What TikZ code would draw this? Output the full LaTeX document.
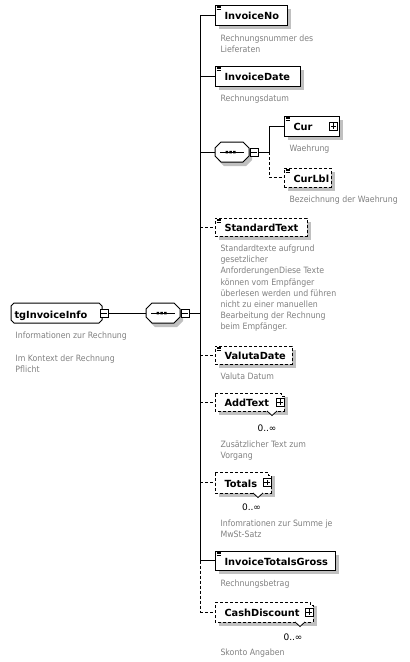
\documentclass[tikz,border=0pt]{standalone}
\usepackage{fontspec}
\setmainfont{DejaVu Sans}
\newfontfamily\descfont[FakeStretch=0.9]{DejaVu Sans}
\definecolor{shadowgray}{RGB}{192,192,192}
\definecolor{descgray}{RGB}{128,128,128}
\tikzset{
  opt/.style={dash pattern=on 3pt off 2pt},
  ebox/.style={draw, fill=white, line width=1pt, inner sep=0pt, outer sep=0pt},
  title/.style={font=\bfseries\fontsize{9.8}{12}\selectfont, anchor=base west, inner sep=0pt},
  desc/.style={font=\descfont\fontsize{8.7}{11}\selectfont, text=descgray, anchor=base west, inner sep=0pt},
  mult/.style={font=\fontsize{9}{11}\selectfont, anchor=base, inner sep=0pt},
  pmbox/.style={draw, fill=white, line width=0.8pt, minimum width=8pt, minimum height=8pt, inner sep=0pt, outer sep=0pt},
  plusbox/.style={pmbox, path picture={
      \draw[line width=0.8pt] ([xshift=-2.6pt]path picture bounding box.center) -- ([xshift=2.6pt]path picture bounding box.center)
            ([yshift=-2.6pt]path picture bounding box.center) -- ([yshift=2.6pt]path picture bounding box.center);}},
  minusbox/.style={pmbox, path picture={
      \draw[line width=0.8pt] ([xshift=-2.6pt]path picture bounding box.center) -- ([xshift=2.6pt]path picture bounding box.center);}},
}
% element box: name, x1, y1, x2, y2, extra style
\newcommand\elbox[6]{%
  \fill[shadowgray] (#2+4,#3+4) rectangle (#4+4,#5+4);
  \node[ebox,#6,minimum width=#4-#2,minimum height=#5-#3,anchor=north west] (#1) at (#2,#3) {};
}
% simple-content icon at top-left of a box
\newcommand\eicon[2]{%
  \draw[line width=0.6pt] (#1+1.5,#2+1) -- (#1+6,#2+1) (#1+1.5,#2+2.7) -- (#1+6,#2+2.7) (#1+1.5,#2+4.4) -- (#1+6,#2+4.4);
}
% optional repeated element: name, x1, y1, x2, y2, notch x
\newcommand\multibox[6]{%
  \fill[shadowgray] (#2+4,#3+4) rectangle (#4+4,#5+4);
  \draw[fill=white,opt] (#2,#3) -- (#4-3,#3) -- (#4-3,#3+3) -- (#4,#3+3) -- (#4,#5) -- (#2,#5) -- cycle;
  \draw[fill=white,line width=0.8pt] (#6-5,#5) -- (#6,#5+4.5) -- (#6+5,#5);
  \node[inner sep=0pt,outer sep=0pt,minimum width=#4-#2,minimum height=#5-#3,anchor=north west] (#1) at (#2,#3) {};
}
% sequence compositor: name, x1, y1
\newcommand\compo[3]{%
  \fill[shadowgray] (#2+9,#3+4) -- (#2+31,#3+4) -- (#2+37,#3+10) -- (#2+37,#3+18) -- (#2+31,#3+24) -- (#2+9,#3+24) -- (#2+3,#3+18) -- (#2+3,#3+10) -- cycle;
  \draw[fill=white] (#2+6,#3) -- (#2+28,#3) -- (#2+34,#3+6) -- (#2+34,#3+14) -- (#2+28,#3+20) -- (#2+6,#3+20) -- (#2,#3+14) -- (#2,#3+6) -- cycle;
  \draw (#2+5,#3+10) -- (#2+29,#3+10);
  \fill (#2+10.5,#3+8.75) rectangle ++(2.5,2.5) (#2+14.25,#3+8.75) rectangle ++(2.5,2.5) (#2+18,#3+8.75) rectangle ++(2.5,2.5);
  \node[inner sep=0pt,outer sep=0pt,minimum width=34pt,minimum height=20pt] (#1) at (#2+17,#3+10) {};
}
\begin{document}
\begin{tikzpicture}[x=1pt,y=-1pt,line width=1pt]
\useasboundingbox (0,0) rectangle (410,662);
\coordinate (trk) at (200,0);
\coordinate (trk2) at (269,0);

% ---- root group
\draw[fill=white] (14,303) -- (99,303) -- (102,306) -- (102,320) -- (99,323) -- (14,323) -- (11,320) -- (11,306) -- cycle;
\node[inner sep=0pt,outer sep=0pt,minimum width=91pt,minimum height=20pt,anchor=north west] (root) at (11,303) {};
\node[title] (troot) at (14,318) {tgInvoiceInfo};
\node[desc] (droot1) at (15,338.3) {Informationen zur Rechnung};
\node[desc] (droot2) at (15,361.5) {Im Kontext der Rechnung};
\node[desc] (droot3) at (15,372.5) {Pflicht};

% ---- main sequence
\compo{seq1}{146}{303}
\node[minusbox] (rootm) at (104,313) {};
\node[minusbox] (seq1m) at (185,313) {};
\draw (rootm.east) -- (seq1.west);

% ---- children boxes
\elbox{invno}{215}{5}{287}{25}{}
\eicon{215}{5}
\elbox{invdate}{215}{66}{300}{86}{}
\eicon{215}{66}
\compo{seq2}{215}{142}
\node[minusbox] (seq2m) at (254,152) {};
\elbox{cur}{284}{116}{339}{136}{}
\eicon{284}{116}
\node[plusbox] (curp) at (333.5,126) {};
\elbox{curlbl}{284}{168}{331}{187}{opt}
\eicon{284}{168}
\elbox{std}{215}{218}{307}{236}{opt}
\eicon{215}{218}
\elbox{valuta}{215}{346}{292}{364}{opt}
\eicon{215}{346}
\multibox{addtext}{215}{393}{284}{411}{272}
\node[plusbox] (addp) at (280,402) {};
\multibox{totals}{215}{472}{271}{493}{258}
\node[plusbox] (totp) at (267,482.5) {};
\elbox{itg}{215}{551}{335}{570}{}
\eicon{215}{551}
\multibox{cash}{215}{602}{313}{622}{300}
\node[plusbox] (cashp) at (309,612) {};

% ---- connectors
\draw (seq1m.east) -- (seq1m.east -| trk);
\draw (invno.west -| trk) -- (itg.west -| trk);
\draw[opt] (itg.west -| trk) -- (cash.west -| trk);
\draw (invno.west -| trk) -- (invno.west);
\draw (invdate.west -| trk) -- (invdate.west);
\draw (seq2.west -| trk) -- (seq2.west);
\draw[opt] (std.west -| trk) -- (std.west);
\draw[opt] (valuta.west -| trk) -- (valuta.west);
\draw[opt] (addtext.west -| trk) -- (addtext.west);
\draw[opt] (totals.west -| trk) -- (totals.west);
\draw (itg.west -| trk) -- (itg.west);
\draw[opt] (cash.west -| trk) -- (cash.west);
\draw (seq2m.east) -- (seq2m.east -| trk2);
\draw (cur.west -| trk2) -- (seq2m.east -| trk2);
\draw (cur.west -| trk2) -- (cur.west);
\draw[opt] (seq2m.east -| trk2) -- (curlbl.west -| trk2) -- (curlbl.west);

% ---- titles
\node[title] (tinvno) at (224,19.5) {InvoiceNo};
\node[title] (tinvdate) at (224,80.5) {InvoiceDate};
\node[title] (tcur) at (293,130.5) {Cur};
\node[title] (tcurlbl) at (293,182) {CurLbl};
\node[title] (tstd) at (224,231.5) {StandardText};
\node[title] (tvaluta) at (224,359.5) {ValutaDate};
\node[title] (taddtext) at (224,406.5) {AddText};
\node[title] (ttotals) at (224,487) {Totals};
\node[title] (titg) at (224,565) {InvoiceTotalsGross};
\node[title] (tcash) at (224,616.5) {CashDiscount};

% ---- multiplicities
\node[mult] (maddtext) at (267,431.5) {0..∞};
\node[mult] (mtotals) at (251.5,510.5) {0..∞};
\node[mult] (mcash) at (293,640) {0..∞};

% ---- descriptions
\node[desc] (dinvno1) at (220,41.5) {Rechnungsnummer des};
\node[desc] (dinvno2) at (220,52.5) {Lieferaten};
\node[desc] (dinvdate) at (220,101.7) {Rechnungsdatum};
\node[desc] (dcur) at (289,151.7) {Waehrung};
\node[desc] (dcurlbl) at (289,202.7) {Bezeichnung der Waehrung};
\foreach \t [count=\i from 0] in {Standardtexte aufgrund, gesetzlicher, AnforderungenDiese Texte, können vom Empfänger, überlesen werden und führen, nicht zu einer manuellen, Bearbeitung der Rechnung, beim Empfänger.}
  \node[desc] (dstd\i) at (220,251.7+\i*11.1) {\t};
\node[desc] (dvaluta) at (220,379) {Valuta Datum};
\node[desc] (daddtext1) at (220,447.3) {Zusätzlicher Text zum};
\node[desc] (daddtext2) at (220,458.3) {Vorgang};
\node[desc] (dtotals1) at (220,526) {Infomrationen zur Summe je};
\node[desc] (dtotals2) at (220,537) {MwSt-Satz};
\node[desc] (ditg) at (220,586.7) {Rechnungsbetrag};
\node[desc] (dcash) at (220,655) {Skonto Angaben};
\end{tikzpicture}
\end{document}
